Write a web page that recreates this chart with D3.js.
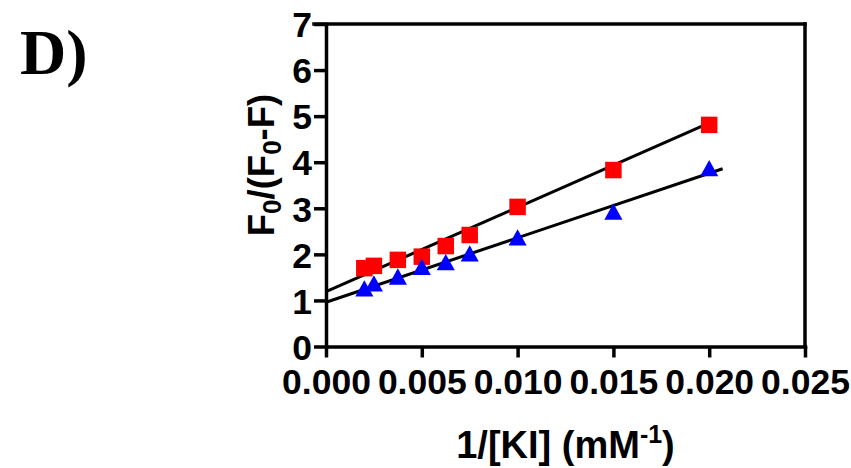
<!DOCTYPE html>
<html>
<head>
<meta charset="utf-8">
<script src="https://cdn.jsdelivr.net/npm/d3@7"></script>
<style>
  html, body { margin: 0; padding: 0; background: #fff; }
  svg { display: block; }
</style>
</head>
<body>
<svg id="chart" width="851" height="468"></svg>
<script>
// ---- data ----
const xValues = [0.002, 0.0025, 0.00375, 0.005, 0.00625, 0.0075, 0.010, 0.015, 0.020];
const redValues = [1.70, 1.75, 1.88, 1.95, 2.18, 2.42, 3.03, 3.83, 4.81];
const blueValues = [1.26, 1.37, 1.52, 1.73, 1.83, 2.02, 2.37, 2.93, 3.87];
// linear fits: [intercept, slope, xEnd]
const redFit = [1.19, 183, 0.0201];
const blueFit = [0.96, 140, 0.0207];
const xTicks = [0, 0.005, 0.010, 0.015, 0.020, 0.025];
const yTicks = [0, 1, 2, 3, 4, 5, 6, 7];

// ---- layout ----
const svg = d3.select("#chart");
const pLeft = 326, pRight = 805, pTop = 24, pBottom = 346.5;
const x = d3.scaleLinear().domain([0, 0.025]).range([pLeft, pRight]);
const y = d3.scaleLinear().domain([0, 7]).range([pBottom, pTop]);
const font = "'Liberation Sans', Arial, sans-serif";
const axisW = 3.5;

// frame top & right
svg.append("line").attr("x1", pLeft - 12).attr("x2", pRight).attr("y1", pTop).attr("y2", pTop)
  .attr("stroke", "#000").attr("stroke-width", axisW).attr("stroke-linecap", "square");
svg.append("line").attr("x1", pRight).attr("x2", pRight).attr("y1", pTop).attr("y2", pBottom)
  .attr("stroke", "#000").attr("stroke-width", axisW).attr("stroke-linecap", "square");

// x axis
const gx = svg.append("g").attr("transform", `translate(0,${pBottom})`)
  .call(d3.axisBottom(x).tickValues(xTicks).tickFormat(d3.format(".3f")).tickSize(11).tickSizeOuter(0));
gx.select(".domain").attr("stroke-width", axisW).attr("stroke-linecap", "square");
gx.selectAll(".tick line").attr("stroke-width", axisW);
gx.selectAll(".tick text").attr("font-family", font).attr("font-weight", "bold")
  .attr("font-size", 35.5).attr("fill", "#000").attr("dy", null).attr("y", 47);

// y axis
const gy = svg.append("g").attr("transform", `translate(${pLeft},0)`)
  .call(d3.axisLeft(y).tickValues(yTicks).tickFormat(d3.format("d")).tickSize(12).tickSizeOuter(0));
gy.select(".domain").attr("stroke-width", axisW).attr("stroke-linecap", "square");
gy.selectAll(".tick line").attr("stroke-width", axisW);
gy.selectAll(".tick text").attr("font-family", font).attr("font-weight", "bold")
  .attr("font-size", 35.5).attr("fill", "#000").attr("x", -14).attr("dy", "0.36em");

// fit lines
[redFit, blueFit].forEach(f => {
  svg.append("line")
    .attr("x1", x(0)).attr("y1", y(f[0]))
    .attr("x2", x(f[2])).attr("y2", y(f[0] + f[1] * f[2]))
    .attr("stroke", "#000").attr("stroke-width", 3);
});

// symbols
const triType = {
  draw(ctx, size) {
    const w = Math.sqrt(size) * 1.25, h = w * 0.9;
    ctx.moveTo(0, -h / 2);
    ctx.lineTo(w / 2, h / 2);
    ctx.lineTo(-w / 2, h / 2);
    ctx.closePath();
  }
};
const sq = d3.symbol().type(d3.symbolSquare).size(16.5 * 16.5);
const tri = d3.symbol().type(triType).size(14.5 * 14.5);

svg.append("g").selectAll("path").data(xValues.map((d, i) => [d, redValues[i]]))
  .join("path").attr("d", sq)
  .attr("transform", d => `translate(${x(d[0])},${y(d[1])})`)
  .attr("fill", "#ff0000");
svg.append("g").selectAll("path").data(xValues.map((d, i) => [d, blueValues[i]]))
  .join("path").attr("d", tri)
  .attr("transform", d => `translate(${x(d[0])},${y(d[1])})`)
  .attr("fill", "#0000ff");

// x title
const xt = svg.append("text").attr("x", (pLeft + pRight) / 2).attr("y", 458)
  .attr("text-anchor", "middle").attr("font-family", font).attr("font-weight", "bold")
  .attr("font-size", 38).attr("fill", "#000");
xt.append("tspan").text("1/[KI] (mM");
xt.append("tspan").attr("font-size", 25).attr("dy", -15).text("-1");
xt.append("tspan").attr("dy", 15).text(")");

// y title
const yt = svg.append("text")
  .attr("transform", `translate(274,165) rotate(-90)`)
  .attr("text-anchor", "middle").attr("font-family", font).attr("font-weight", "bold")
  .attr("font-size", 36.5).attr("fill", "#000");
yt.append("tspan").text("F");
yt.append("tspan").attr("font-size", 26).attr("dy", 7).text("0");
yt.append("tspan").attr("dy", -7).text("/(F");
yt.append("tspan").attr("font-size", 26).attr("dy", 7).text("0");
yt.append("tspan").attr("dy", -7).text("-F)");

// panel label
svg.append("text").attr("x", 20).attr("y", 74)
  .attr("font-family", "'Liberation Serif', 'Times New Roman', serif").attr("font-weight", "bold")
  .attr("font-size", 64).attr("fill", "#000").text("D)");
</script>
</body>
</html>
